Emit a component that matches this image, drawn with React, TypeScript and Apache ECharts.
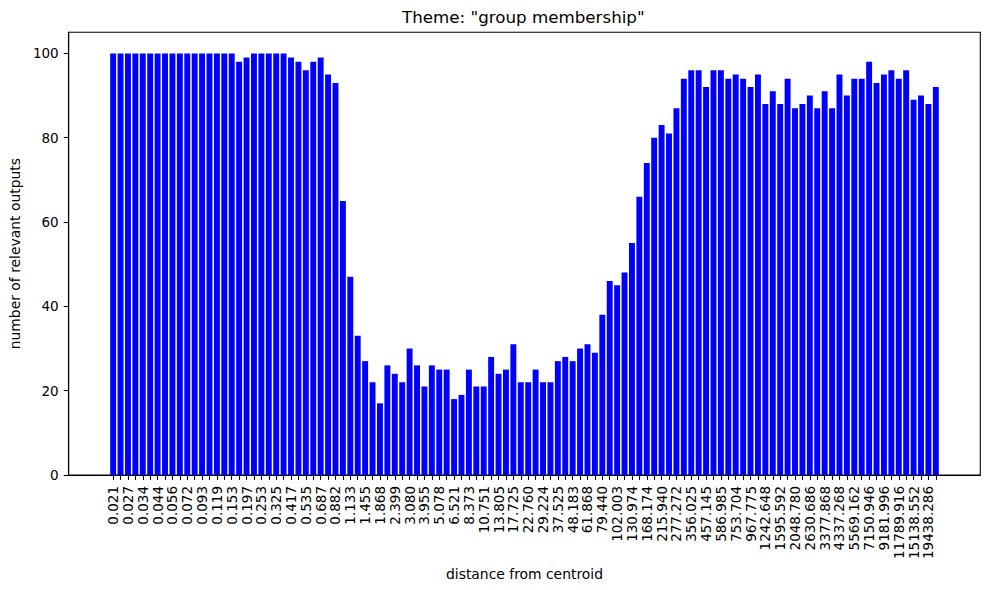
import React, { useEffect, useRef } from "react";
import * as echarts from "echarts";

const categories: string[] = [
  "0.021", "0.024", "0.027", "0.030", "0.034", "0.039", "0.044", "0.050",
  "0.056", "0.064", "0.072", "0.082", "0.093", "0.105", "0.119", "0.135",
  "0.153", "0.174", "0.197", "0.223", "0.253", "0.287", "0.325", "0.368",
  "0.417", "0.472", "0.535", "0.607", "0.687", "0.779", "0.882", "1.000",
  "1.133", "1.284", "1.455", "1.649", "1.868", "2.117", "2.399", "2.718",
  "3.080", "3.490", "3.955", "4.482", "5.078", "5.755", "6.521", "7.389",
  "8.373", "9.488", "10.751", "12.182", "13.805", "15.643", "17.725", "20.086",
  "22.760", "25.790", "29.224", "33.115", "37.525", "42.521", "48.183", "54.598",
  "61.868", "70.105", "79.440", "90.017", "102.003", "115.584", "130.974", "148.413",
  "168.174", "190.566", "215.940", "244.692", "277.272", "314.191", "356.025", "403.429",
  "457.145", "518.013", "586.985", "665.142", "753.704", "854.059", "967.775", "1096.633",
  "1242.648", "1408.105", "1595.592", "1808.042", "2048.780", "2321.572", "2630.686", "2980.958",
  "3377.868", "3827.626", "4337.268", "4914.769", "5569.162", "6310.688", "7150.946", "8103.084",
  "9181.996", "10404.566", "11789.916", "13359.727", "15138.552", "17154.229", "19438.286", "22026.466",
];

const counts: number[] = [
  100, 100, 100, 100, 100, 100, 100, 100, 100, 100, 100, 100, 100, 100, 100, 100,
  100, 98, 99, 100, 100, 100, 100, 100, 99, 98, 96, 98, 99, 95, 93, 65,
  47, 33, 27, 22, 17, 26, 24, 22, 30, 26, 21, 26, 25, 25, 18, 19,
  25, 21, 21, 28, 24, 25, 31, 22, 22, 25, 22, 22, 27, 28, 27, 30,
  31, 29, 38, 46, 45, 48, 55, 66, 74, 80, 83, 81, 87, 94, 96, 96,
  92, 96, 96, 94, 95, 94, 92, 95, 88, 91, 88, 94, 87, 88, 90, 87,
  91, 87, 95, 90, 94, 94, 98, 93, 95, 96, 94, 96, 89, 90, 88, 92,
];

const yTicks: number[] = [0, 20, 40, 60, 80, 100];

const titleText = 'Theme: "group membership"';
const xName = "distance from centroid";
const yName = "number of relevant outputs";

const PAD = 6;

export default function App() {
  const ref = useRef<HTMLDivElement>(null);

  useEffect(() => {
    if (!ref.current) return;
    const chart = echarts.init(ref.current, undefined, { renderer: "svg" });
    const font = "DejaVu Sans";
    const padL: string[] = [];
    const padR: string[] = [];
    for (let i = 0; i < PAD; i++) {
      padL.push("\u200b".repeat(i + 1));
      padR.push("\u200c".repeat(i + 1));
    }
    const axisData = [...padL, ...categories, ...padR];
    const seriesData = [
      ...padL.map(() => "-"),
      ...counts,
      ...padR.map(() => "-"),
    ];
    const n = categories.length;
    const isReal = (idx: number) => idx >= PAD && idx < PAD + n;

    chart.setOption({
      animation: false,
      backgroundColor: "#ffffff",
      title: {
        text: titleText,
        left: 523.3,
        top: 8,
        padding: 0,
        textAlign: "center",
        textStyle: {
          fontFamily: font,
          fontSize: 16.7,
          fontWeight: "normal",
          color: "#000",
        },
      },
      grid: {
        left: 66.3,
        right: 8.7,
        top: 32.3,
        bottom: 115,
        show: true,
        borderColor: "#000",
        borderWidth: 1.1,
        backgroundColor: "transparent",
      },
      xAxis: {
        type: "category",
        data: axisData,
        boundaryGap: false,
        name: xName,
        nameLocation: "middle",
        nameGap: 88,
        nameTextStyle: { fontFamily: font, fontSize: 13.9, color: "#000" },
        axisLine: { show: true, lineStyle: { color: "#000", width: 1.1 } },
        axisTick: {
          show: true,
          length: 4.9,
          interval: (idx: number) => isReal(idx),
          lineStyle: { color: "#000", width: 1.1 },
        },
        axisLabel: {
          show: true,
          rotate: 90,
          margin: 11,
          interval: (idx: number) => isReal(idx) && (idx - PAD) % 2 === 0,
          fontFamily: font,
          fontSize: 13.5,
          color: "#000",
        },
        splitLine: { show: false },
      },
      yAxis: {
        type: "value",
        min: 0,
        max: 105,
        name: yName,
        nameLocation: "middle",
        nameGap: 42,
        nameTextStyle: { fontFamily: font, fontSize: 13.9, color: "#000" },
        axisLine: { show: true, lineStyle: { color: "#000", width: 1.1 } },
        axisTick: {
          show: true,
          length: 4.9,
          customValues: yTicks,
          lineStyle: { color: "#000", width: 1.1 },
        },
        axisLabel: {
          show: true,
          margin: 10,
          customValues: yTicks,
          fontFamily: font,
          fontSize: 13.5,
          color: "#000",
        },
        splitLine: { show: false },
      },
      series: [
        {
          type: "bar",
          data: seriesData,
          barWidth: "80%",
          itemStyle: { color: "#0000ff" },
        },
      ],
    });

    return () => {
      chart.dispose();
    };
  }, []);

  return (
    <div
      ref={ref}
      style={{ position: "absolute", left: 0, top: 0, width: 989, height: 590 }}
    />
  );
}
